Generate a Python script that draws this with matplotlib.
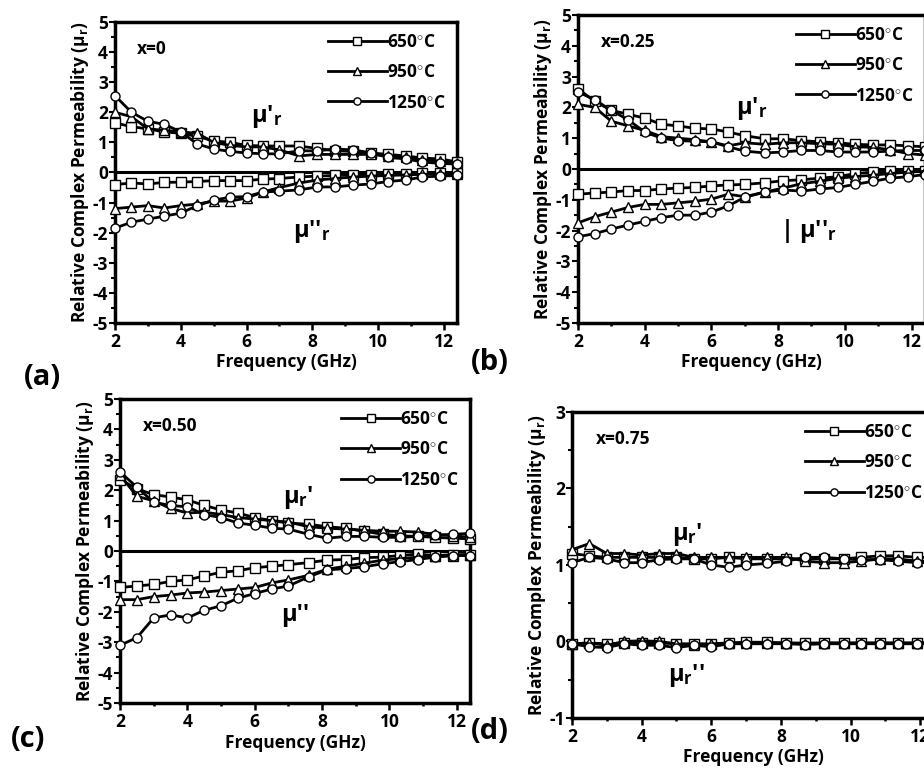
import numpy as np
import matplotlib
matplotlib.use("Agg")
import matplotlib.pyplot as plt
from matplotlib.ticker import MultipleLocator

plt.rcParams['font.family'] = ['Open Sans', 'DejaVu Sans']
plt.rcParams['font.weight'] = 'bold'
plt.rcParams['axes.unicode_minus'] = False
plt.rcParams['mathtext.fontset'] = 'custom'
plt.rcParams['mathtext.rm'] = 'Open Sans:bold'
plt.rcParams['mathtext.it'] = 'Open Sans:bold'
plt.rcParams['mathtext.bf'] = 'Open Sans:bold'

# frequency points (GHz)
freq = [2.0, 2.5, 3.0, 3.5, 4.0, 4.5, 5.0, 5.5, 6.0, 6.5, 7.0,
        7.6, 8.15, 8.7, 9.25, 9.8, 10.3, 10.85, 11.35, 11.9, 12.4]
temps = ["650", "950", "1250"]

# (a) x=0
a_re_650 = [1.65, 1.52, 1.45, 1.35, 1.3, 1.2, 1.05, 1.0, 0.9, 0.88, 0.88, 0.88, 0.8, 0.72, 0.7, 0.65, 0.6, 0.55, 0.48, 0.45, 0.35]
a_re_950 = [2.0, 1.85, 1.45, 1.4, 1.35, 1.3, 1.0, 0.9, 0.85, 0.85, 0.75, 0.55, 0.6, 0.6, 0.6, 0.6, 0.55, 0.5, 0.42, 0.38, 0.3]
a_re_1250 = [2.55, 2.0, 1.7, 1.6, 1.35, 0.95, 0.78, 0.7, 0.65, 0.62, 0.62, 0.72, 0.72, 0.78, 0.75, 0.65, 0.5, 0.45, 0.35, 0.3, 0.28]
a_im_650 = [-0.4, -0.35, -0.38, -0.33, -0.32, -0.3, -0.27, -0.27, -0.27, -0.22, -0.2, -0.15, -0.12, -0.1, -0.08, -0.07, -0.05, -0.05, -0.03, -0.02, -0.02]
a_im_950 = [-1.2, -1.15, -1.1, -1.18, -1.1, -1.05, -0.95, -0.95, -0.85, -0.65, -0.5, -0.35, -0.25, -0.2, -0.15, -0.12, -0.1, -0.08, -0.06, -0.05, -0.05]
a_im_1250 = [-1.85, -1.65, -1.55, -1.45, -1.35, -1.1, -0.92, -0.82, -0.8, -0.65, -0.62, -0.58, -0.48, -0.48, -0.42, -0.38, -0.3, -0.25, -0.15, -0.12, -0.1]

# (b) x=0.25
b_re_650 = [2.6, 2.2, 1.9, 1.78, 1.65, 1.45, 1.4, 1.32, 1.3, 1.2, 1.08, 0.98, 0.98, 0.92, 0.88, 0.85, 0.8, 0.78, 0.78, 0.75, 0.72]
b_re_950 = [2.1, 2.0, 1.55, 1.4, 1.25, 1.05, 1.0, 0.95, 0.88, 0.75, 0.85, 0.8, 0.85, 0.85, 0.82, 0.8, 0.72, 0.7, 0.62, 0.5, 0.45]
b_re_1250 = [2.5, 2.25, 1.9, 1.6, 1.2, 1.0, 0.92, 0.9, 0.88, 0.72, 0.58, 0.52, 0.55, 0.6, 0.6, 0.55, 0.55, 0.55, 0.58, 0.6, 0.6]
b_im_650 = [-0.82, -0.78, -0.75, -0.7, -0.7, -0.65, -0.62, -0.6, -0.55, -0.52, -0.5, -0.45, -0.38, -0.35, -0.3, -0.25, -0.15, -0.1, -0.08, -0.05, -0.05]
b_im_950 = [-1.75, -1.55, -1.4, -1.25, -1.15, -1.15, -1.1, -1.05, -0.98, -0.82, -0.9, -0.75, -0.62, -0.48, -0.4, -0.3, -0.25, -0.2, -0.15, -0.1, -0.08]
b_im_1250 = [-2.2, -2.1, -1.95, -1.82, -1.7, -1.58, -1.5, -1.5, -1.4, -1.2, -0.92, -0.75, -0.68, -0.72, -0.65, -0.6, -0.5, -0.4, -0.3, -0.25, -0.18]

# (c) x=0.50
c_re_650 = [2.35, 2.05, 1.85, 1.78, 1.68, 1.5, 1.35, 1.25, 1.1, 1.0, 0.92, 0.88, 0.8, 0.75, 0.65, 0.55, 0.5, 0.48, 0.45, 0.42, 0.4]
c_re_950 = [2.5, 1.8, 1.65, 1.4, 1.25, 1.28, 1.2, 1.1, 1.05, 1.0, 0.95, 0.8, 0.75, 0.72, 0.68, 0.65, 0.65, 0.62, 0.55, 0.5, 0.45]
c_re_1250 = [2.6, 2.1, 1.6, 1.5, 1.45, 1.2, 1.1, 0.92, 0.85, 0.75, 0.72, 0.55, 0.42, 0.48, 0.48, 0.45, 0.45, 0.48, 0.52, 0.55, 0.58]
c_im_650 = [-1.2, -1.15, -1.1, -1.0, -0.95, -0.82, -0.7, -0.65, -0.55, -0.5, -0.45, -0.38, -0.3, -0.28, -0.22, -0.2, -0.15, -0.1, -0.15, -0.12, -0.12]
c_im_950 = [-1.6, -1.6, -1.5, -1.45, -1.38, -1.35, -1.3, -1.25, -1.2, -1.05, -0.95, -0.8, -0.6, -0.5, -0.4, -0.3, -0.25, -0.2, -0.18, -0.15, -0.12]
c_im_1250 = [-3.1, -2.85, -2.2, -2.1, -2.2, -1.95, -1.8, -1.55, -1.4, -1.25, -1.15, -0.85, -0.62, -0.58, -0.52, -0.42, -0.35, -0.28, -0.2, -0.15, -0.15]

# (d) x=0.75
d_re_650 = [1.15, 1.12, 1.1, 1.1, 1.1, 1.1, 1.1, 1.08, 1.08, 1.1, 1.08, 1.08, 1.08, 1.08, 1.08, 1.08, 1.1, 1.12, 1.12, 1.1, 1.1]
d_re_950 = [1.2, 1.28, 1.15, 1.15, 1.13, 1.15, 1.15, 1.1, 1.1, 1.1, 1.1, 1.1, 1.1, 1.05, 1.03, 1.03, 1.05, 1.08, 1.08, 1.05, 1.05]
d_re_1250 = [1.03, 1.1, 1.08, 1.03, 1.03, 1.07, 1.08, 1.08, 1.0, 0.97, 1.0, 1.02, 1.05, 1.1, 1.1, 1.08, 1.07, 1.07, 1.05, 1.03, 1.03]
d_im_650 = [-0.03, -0.02, -0.03, -0.02, -0.02, -0.02, -0.03, -0.03, -0.03, -0.02, -0.01, -0.01, -0.02, -0.02, -0.02, -0.02, -0.02, -0.02, -0.02, -0.02, -0.02]
d_im_950 = [-0.03, -0.02, -0.05, 0.0, 0.01, 0.0, -0.03, -0.05, -0.03, -0.02, -0.02, -0.02, -0.02, -0.03, -0.02, -0.02, -0.02, -0.02, -0.02, -0.02, -0.01]
d_im_1250 = [-0.03, -0.07, -0.08, -0.03, -0.05, -0.05, -0.08, -0.05, -0.07, -0.03, -0.03, -0.03, -0.03, -0.04, -0.03, -0.03, -0.03, -0.03, -0.03, -0.03, -0.03]

markers = ["s", "^", "o"]

fig = plt.figure(figsize=(9.24, 7.74), dpi=100)

def panel(rect, re_list, im_list, ylim, comp, zero_line, notes, letter, letter_pos):
    ax = fig.add_axes(rect)
    for re, im, m, t in zip(re_list, im_list, markers, temps):
        ax.plot(freq, re, "-", color="black", lw=2.0, marker=m, ms=6.5,
                mfc="white", mec="black", mew=1.0, clip_on=False, zorder=3,
                label=t + r"$^{\circ}$C")
        ax.plot(freq, im, "-", color="black", lw=2.0, marker=m, ms=6.5,
                mfc="white", mec="black", mew=1.0, clip_on=False, zorder=3)
    if zero_line:
        ax.axhline(0, color="black", lw=2.2, zorder=2)
    ax.set_xlim(2, 12.4)
    ax.set_ylim(*ylim)
    ax.xaxis.set_major_locator(MultipleLocator(2))
    ax.xaxis.set_minor_locator(MultipleLocator(1))
    ax.yaxis.set_major_locator(MultipleLocator(1))
    ax.yaxis.set_minor_locator(MultipleLocator(0.5))
    ax.tick_params(axis="x", direction="out", length=5, width=1.8, labelsize=12.5, pad=2)
    ax.tick_params(axis="x", which="minor", direction="out", length=2.5, width=1.8)
    ax.tick_params(axis="y", direction="out", length=4, width=1.5, labelsize=12.5, pad=1)
    ax.tick_params(axis="y", which="minor", direction="out", length=3, width=1.5)
    for s in ax.spines.values():
        s.set_linewidth(2.5)
    ax.set_xlabel("Frequency (GHz)", fontsize=12.5, fontweight="bold", labelpad=2)
    ax.set_ylabel(r"Relative Complex Permeability (μ$_\mathregular{r}$)", fontsize=12.5,
                  fontweight="bold", labelpad=1)
    ax.text(0.065, 0.94, comp, transform=ax.transAxes, fontsize=12.5,
            fontweight="bold", va="top")
    for x, y, s in notes:
        ax.text(x, y, s, fontsize=17, fontweight="bold", ha="center", va="center")
    ax.legend(loc="upper right", frameon=False, fontsize=12.5, handlelength=3.4,
              handletextpad=0.0, labelspacing=0.7, borderaxespad=0.25,
              markerscale=0.8)
    fig.text(letter_pos[0], letter_pos[1], letter, fontsize=21, fontweight="bold")
    return ax

panel([0.1245, 0.5827, 0.370, 0.3889],
      [a_re_650, a_re_950, a_re_1250], [a_im_650, a_im_950, a_im_1250],
      (-5, 5), "x=0", True,
      [(6.6, 1.85, r"μ'$_\mathregular{r}$"), (8.0, -1.95, r"μ''$_\mathregular{r}$")],
      "(a)", (0.026, 0.503))
panel([0.6255, 0.5827, 0.3755, 0.398],
      [b_re_650, b_re_950, b_re_1250], [b_im_650, b_im_950, b_im_1250],
      (-5, 5), "x=0.25", True,
      [(7.2, 1.95, r"μ'$_\mathregular{r}$"), (8.9, -2.0, r"| μ''$_\mathregular{r}$")],
      "(b)", (0.51, 0.522))
panel([0.1299, 0.0917, 0.379, 0.3928],
      [c_re_650, c_re_950, c_re_1250], [c_im_650, c_im_950, c_im_1250],
      (-5, 5), "x=0.50", True,
      [(7.3, 1.75, r"μ$_\mathregular{r}$'"), (7.2, -2.1, "μ''")],
      "(c)", (0.012, 0.035))
panel([0.619, 0.0724, 0.392, 0.3953],
      [d_re_650, d_re_950, d_re_1250], [d_im_650, d_im_950, d_im_1250],
      (-1, 3), "x=0.75", False,
      [(5.3, 1.4, r"μ$_\mathregular{r}$'"), (5.3, -0.45, r"μ$_\mathregular{r}$''")],
      "(d)", (0.51, 0.045))

fig.savefig("out.png", dpi=100)
